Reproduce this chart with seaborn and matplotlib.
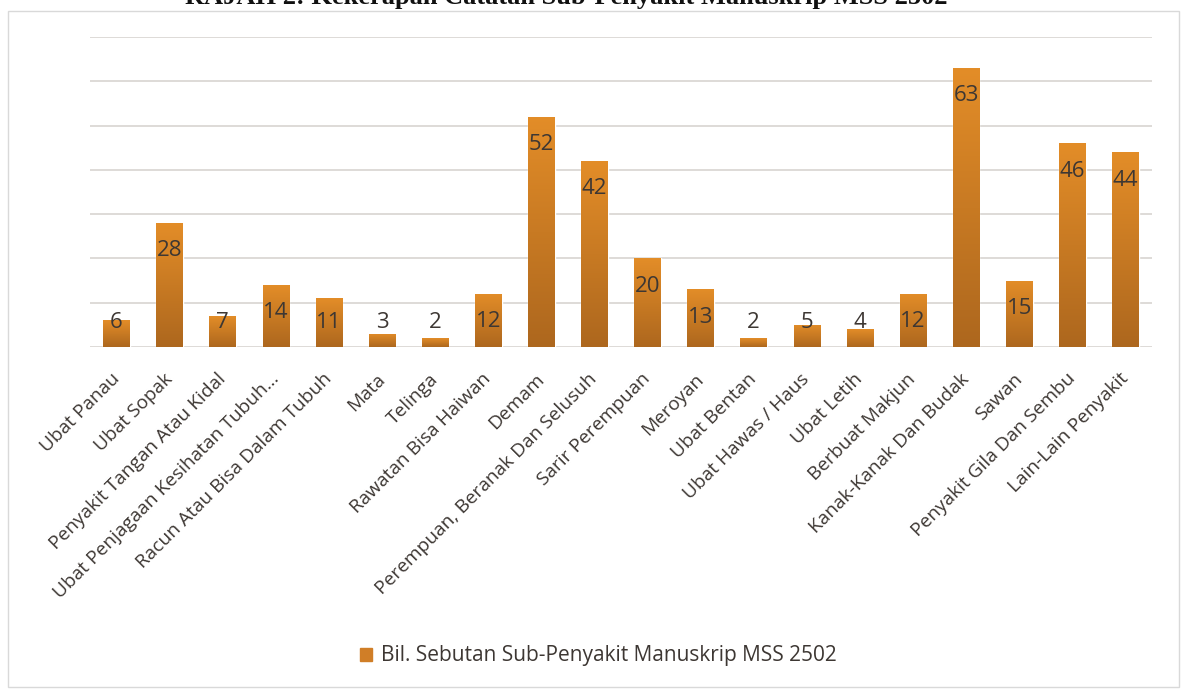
import numpy as np
import pandas as pd
import matplotlib
matplotlib.use("Agg")
import matplotlib.pyplot as plt
import seaborn as sns
from matplotlib.colors import LinearSegmentedColormap
from matplotlib.patches import Rectangle

categories = [
    "Ubat Panau", "Ubat Sopak", "Penyakit Tangan Atau Kidal",
    "Ubat Penjagaan Kesihatan Tubuh…", "Racun Atau Bisa Dalam Tubuh",
    "Mata", "Telinga", "Rawatan Bisa Haiwan", "Demam",
    "Perempuan, Beranak Dan Selusuh", "Sarir Perempuan", "Meroyan",
    "Ubat Bentan", "Ubat Hawas / Haus", "Ubat Letih", "Berbuat Makjun",
    "Kanak-Kanak Dan Budak", "Sawan", "Penyakit Gila Dan Sembu",
    "Lain-Lain Penyakit",
]
counts = [6, 28, 7, 14, 11, 3, 2, 12, 52, 42, 20, 13, 2, 5, 4, 12, 63, 15, 46, 44]

series_name = "Bil. Sebutan Sub-Penyakit Manuskrip MSS 2502"
title = "RAJAH 2: Kekerapan Catatan Sub-Penyakit Manuskrip MSS 2502"

df = pd.DataFrame({"kategori": categories, "bil": counts})

sns.set_theme(style="white")
plt.rcParams["font.family"] = ["Open Sans", "DejaVu Sans"]

text_col = "#3d3733"
top_col = "#e38d28"
bot_col = "#ad671e"

fig = plt.figure(figsize=(11.82, 6.89), dpi=100)
W, H = 1182, 689
ax = fig.add_axes([90 / W, 1 - 347 / H, (1152 - 90) / W, (347 - 37) / H])

sns.barplot(data=df, x="kategori", y="bil", color=top_col, width=0.5,
            ax=ax, zorder=3)

# vertical gradient on each bar
cmap = LinearSegmentedColormap.from_list("bar", [bot_col, top_col])
grad = np.linspace(0, 1, 256).reshape(-1, 1)
for p in ax.patches:
    x0, y0 = p.get_x(), p.get_y()
    im = ax.imshow(grad, extent=[x0, x0 + p.get_width(), y0, y0 + p.get_height()],
                   origin="lower", cmap=cmap, aspect="auto", zorder=3.5)
    im.set_clip_path(p)

ax.set_xlim(-0.5, len(categories) - 0.5)
ax.set_ylim(0, 70)
ax.set_yticks(np.arange(0, 71, 10))
ax.yaxis.grid(True, color="#dedad7", linewidth=1.4, zorder=0)
ax.set_yticklabels([])
ax.tick_params(axis="y", length=0)
ax.tick_params(axis="x", length=0, pad=21)
for s in ax.spines.values():
    s.set_visible(False)
ax.set_xlabel("")
ax.set_ylabel("")

ax.set_xticks(range(len(categories)))
ax.set_xticklabels(categories, rotation=45, ha="right", va="center",
                   rotation_mode="anchor", fontsize=13.8, color=text_col)

# data labels near the top of each bar
for i, v in enumerate(counts):
    ax.text(i, max(v - 6.3, 5.6), str(v), ha="center", va="center",
            fontsize=16, color=text_col, zorder=5)

fig.legend(handles=[Rectangle((0, 0), 1, 1, color="#d07e27")], labels=[series_name],
           loc="center", bbox_to_anchor=(598 / W, 1 - 656 / H), frameon=False,
           fontsize=15, handlelength=0.6, handleheight=0.6, handletextpad=0.4,
           labelcolor=text_col)

# chart frame
fig.patches.append(Rectangle((8 / W, 0.003), (1179 - 8) / W, (686 - 8) / H - 0.003,
                             transform=fig.transFigure, fill=False,
                             edgecolor="#d9d9d9", linewidth=1.0))
fig.text(566 / W, 1 - 4 / H, title, ha="center", va="baseline",
         fontsize=19, fontweight="bold", family="Liberation Serif", color="#111111")

fig.savefig("out.png", dpi=100)
